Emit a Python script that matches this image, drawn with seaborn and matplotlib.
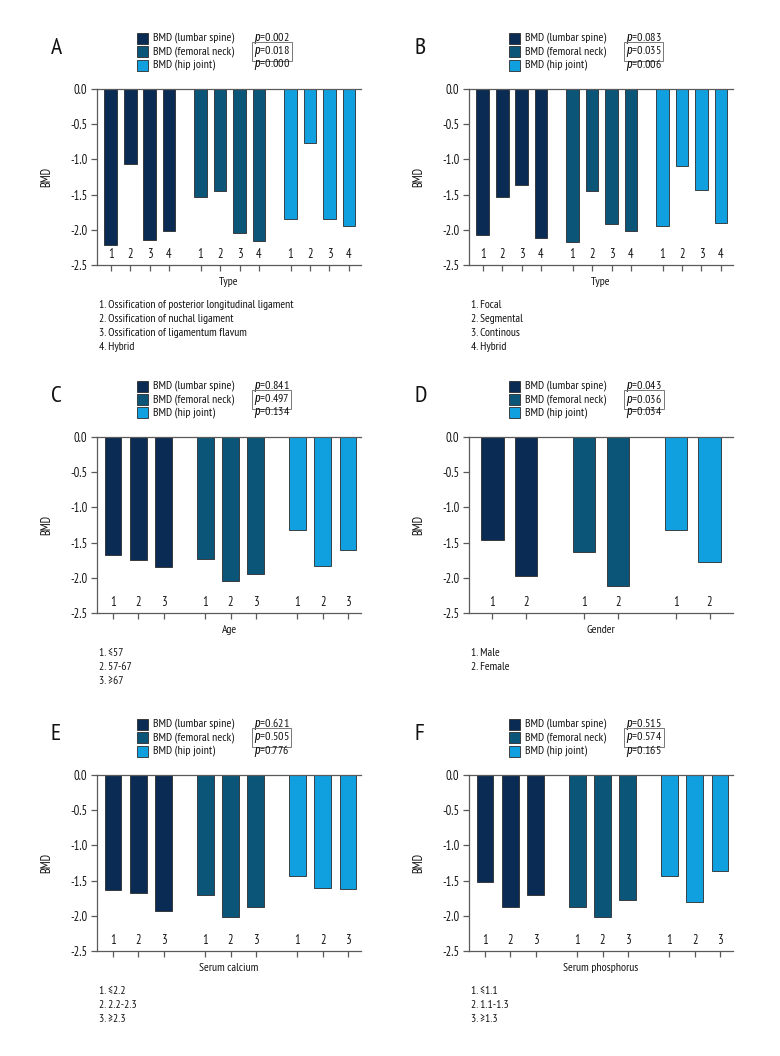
import matplotlib
matplotlib.use("Agg")
import matplotlib.pyplot as plt
import numpy as np
import pandas as pd
import seaborn as sns
from matplotlib import font_manager
from matplotlib.font_manager import FontProperties
from matplotlib.textpath import TextPath
from matplotlib.patches import Rectangle

# ---------------- data ----------------
sites = ["BMD (lumbar spine)", "BMD (femoral neck)", "BMD (hip joint)"]
colors = ["#0a2c54", "#0b5578", "#10a0e0"]

A_lumbar = [-2.21, -1.06, -2.14, -2.02]
A_femoral = [-1.54, -1.45, -2.04, -2.16]
A_hip = [-1.84, -0.76, -1.85, -1.95]
A_p = ["0.002", "0.018", "0.000"]
A_notes = ["1. Ossification of posterior longitudinal ligament",
           "2. Ossification of nuchal ligament",
           "3. Ossification of ligamentum flavum",
           "4. Hybrid"]

B_lumbar = [-2.07, -1.53, -1.37, -2.12]
B_femoral = [-2.18, -1.45, -1.92, -2.01]
B_hip = [-1.95, -1.10, -1.43, -1.90]
B_p = ["0.083", "0.035", "0.006"]
B_notes = ["1. Focal", "2. Segmental", "3. Continous", "4. Hybrid"]

C_lumbar = [-1.67, -1.75, -1.85]
C_femoral = [-1.74, -2.05, -1.94]
C_hip = [-1.32, -1.83, -1.60]
C_p = ["0.841", "0.497", "0.134"]
C_notes = ["1. \u226457", "2. 57-67", "3. \u226567"]

D_lumbar = [-1.47, -1.98]
D_femoral = [-1.64, -2.11]
D_hip = [-1.32, -1.77]
D_p = ["0.043", "0.036", "0.034"]
D_notes = ["1. Male", "2. Female"]

E_lumbar = [-1.63, -1.68, -1.93]
E_femoral = [-1.71, -2.01, -1.87]
E_hip = [-1.43, -1.60, -1.62]
E_p = ["0.621", "0.505", "0.776"]
E_notes = ["1. \u22642.2", "2. 2.2-2.3", "3. \u22652.3"]

F_lumbar = [-1.52, -1.88, -1.71]
F_femoral = [-1.87, -2.01, -1.77]
F_hip = [-1.43, -1.80, -1.37]
F_p = ["0.515", "0.574", "0.165"]
F_notes = ["1. \u22641.1", "2. 1.1-1.3", "3. \u22651.3"]

y_ticks = [0.0, -0.5, -1.0, -1.5, -2.0, -2.5]

# ---------------- font choice (condensed, Myriad-like proportions) ----------------
sns.set_style("ticks")
ttf = font_manager.fontManager.ttflist
avail = {f.name for f in ttf}
prefs = ["Cabin Condensed", "PT Sans Narrow", "Fira Sans Extra Condensed", "Asap Condensed",
         "Sofia Sans Semi Condensed", "Fira Sans Condensed", "Archivo Narrow",
         "IBM Plex Sans Condensed", "Barlow Semi Condensed", "Encode Sans Semi Condensed",
         "Roboto Condensed", "Liberation Sans Narrow"]
target_ratio = 81 / 8.8


def ratio(name):
    try:
        fp = FontProperties(family=name)
        w = TextPath((0, 0), "BMD (lumbar spine)", size=10, prop=fp).get_extents().width
        h = TextPath((0, 0), "H", size=10, prop=fp).get_extents().height
        return w / h
    except Exception:
        return None


main_font = None
cands = []
for name in prefs:
    if name in avail:
        r = ratio(name)
        if r is None:
            continue
        cands.append((abs(r / target_ratio - 1), name))
        if abs(r / target_ratio - 1) < 0.07:
            main_font = name
            break
if main_font is None:
    main_font = min(cands)[1] if cands else "DejaVu Sans"


def has_italic(name):
    return any(f.name == name and f.style in ("italic", "oblique") for f in ttf)


italic_font = next((n for n in [main_font, "PT Sans Narrow", "Roboto Condensed",
                                "Fira Sans Condensed", "Liberation Sans", "DejaVu Sans"]
                    if n in avail and has_italic(n)), "DejaVu Sans")

plt.rcParams["font.family"] = [main_font, "DejaVu Sans"]
plt.rcParams["axes.unicode_minus"] = False
plt.rcParams["mathtext.fontset"] = "custom"
plt.rcParams["mathtext.it"] = italic_font + ":italic"
plt.rcParams["mathtext.rm"] = main_font

W, H = 780, 1056
fig = plt.figure(figsize=(W / 100, H / 100), dpi=100)
renderer = fig.canvas.get_renderer()


def fit_size(sample, target_px):
    t = fig.text(0, 0, sample, fontsize=10)
    w = t.get_window_extent(renderer).width
    t.remove()
    return 10 * target_px / w


fs_leg = fit_size("BMD (lumbar spine)", 81)
fs_note = fit_size("1. Ossification of posterior longitudinal ligament", 196)
fs_tick = fit_size("-2.5", 17)
fs_xlab = fit_size("Serum phosphorus", 76)
fs_letter = 17


def fx(px):
    return px / W


def fy(py):
    return 1 - py / H


panels = [
    dict(letter="A", lumbar=A_lumbar, femoral=A_femoral, hip=A_hip, p=A_p, notes=A_notes,
         xlabel="Type", left=97, top=89, lx=51, gap=1.62, pad=(0.70, 0.62)),
    dict(letter="B", lumbar=B_lumbar, femoral=B_femoral, hip=B_hip, p=B_p, notes=B_notes,
         xlabel="Type", left=469, top=89, lx=415, gap=1.62, pad=(0.70, 0.62)),
    dict(letter="C", lumbar=C_lumbar, femoral=C_femoral, hip=C_hip, p=C_p, notes=C_notes,
         xlabel="Age", left=97, top=437, lx=51, gap=1.64, pad=(0.63, 0.51)),
    dict(letter="D", lumbar=D_lumbar, femoral=D_femoral, hip=D_hip, p=D_p, notes=D_notes,
         xlabel="Gender", left=469, top=437, lx=415, gap=1.74, pad=(0.70, 0.70)),
    dict(letter="E", lumbar=E_lumbar, femoral=E_femoral, hip=E_hip, p=E_p, notes=E_notes,
         xlabel="Serum calcium", left=97, top=775, lx=51, gap=1.64, pad=(0.63, 0.51)),
    dict(letter="F", lumbar=F_lumbar, femoral=F_femoral, hip=F_hip, p=F_p, notes=F_notes,
         xlabel="Serum phosphorus", left=469, top=775, lx=415, gap=1.64, pad=(0.63, 0.51)),
]

AX_W, AX_H = 264, 176
spine_col = "#5a5a5a"
txt_col = "#141414"

for pn in panels:
    left, top = pn["left"], pn["top"]
    ax = fig.add_axes([fx(left), fy(top + AX_H), AX_W / W, AX_H / H])
    n = len(pn["lumbar"])
    rows = []
    for g, (site, vals) in enumerate(zip(sites, [pn["lumbar"], pn["femoral"], pn["hip"]])):
        for i, v in enumerate(vals):
            rows.append(dict(site=site, cat=str(i + 1), pos=g * (n - 1 + pn["gap"]) + i, value=v))
    df = pd.DataFrame(rows)
    sns.barplot(data=df, x="pos", y="value", hue="site", hue_order=sites,
                palette=colors, saturation=1, native_scale=True, width=0.66, errorbar=None,
                edgecolor="#2b2b2b", linewidth=0.6, legend=False, ax=ax)
    ax.set_ylim(-2.5, 0)
    ax.set_xlim(df["pos"].min() - pn["pad"][0], df["pos"].max() + pn["pad"][1])
    ax.set_yticks(y_ticks)
    ax.set_yticklabels([f"{t:.1f}" for t in y_ticks])
    ax.set_xticks(df["pos"].tolist())
    ax.set_xticklabels(df["cat"].tolist())
    for s in ["left", "top", "bottom"]:
        ax.spines[s].set_visible(True)
        ax.spines[s].set_color(spine_col)
        ax.spines[s].set_linewidth(0.9)
    ax.spines["right"].set_visible(False)
    ax.tick_params(axis="y", direction="out", length=4, width=0.9, color=spine_col,
                   labelsize=fs_tick, pad=3, labelcolor=txt_col)
    ax.tick_params(axis="x", direction="out", length=4, width=0.9, color=spine_col,
                   labelsize=fs_tick, pad=-16, labelcolor=txt_col)
    ax.set_ylabel("BMD", fontsize=fs_tick, color=txt_col)
    ax.yaxis.set_label_coords(-0.167, 0.5)
    ax.set_xlabel(pn["xlabel"], fontsize=fs_xlab, color=txt_col)
    ax.xaxis.label.set_va("center")
    ax.xaxis.set_label_coords(0.5, -0.097)
    ax.set_facecolor("none")

    # panel letter
    fig.text(fx(pn["lx"]), fy(top - 41), pn["letter"], fontsize=fs_letter, ha="left",
             va="center", color="#111111")

    # legend block
    row_off = [-51, -37.5, -24]
    for k in range(3):
        yc = top + row_off[k]
        fig.patches.append(Rectangle((fx(left + 40), fy(yc + 5.5)), 11 / W, 11 / H,
                                     transform=fig.transFigure, facecolor=colors[k],
                                     edgecolor="#2b2b2b", linewidth=0.6))
        fig.text(fx(left + 56), fy(yc), sites[k], fontsize=fs_leg, ha="left", va="center",
                 color=txt_col)
        kw = {}
        if k == 1:
            kw["bbox"] = dict(boxstyle="square,pad=0.15", facecolor="none",
                              edgecolor="#777777", linewidth=0.7)
        fig.text(fx(left + 157), fy(yc), "$p$=" + pn["p"][k], fontsize=fs_leg, ha="left",
                 va="center", color=txt_col, **kw)

    # footnotes
    nx = left + 2
    ny0 = top + AX_H + 40
    for j, line in enumerate(pn["notes"]):
        fig.text(fx(nx), fy(ny0 + 14 * j), line, fontsize=fs_note, ha="left", va="center",
                 color=txt_col)

fig.savefig("out.png", dpi=100, facecolor="white")
